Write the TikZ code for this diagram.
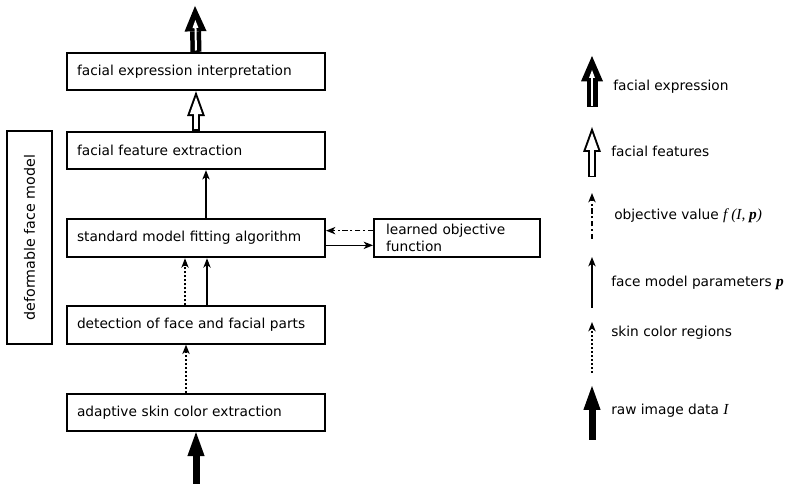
\documentclass[tikz,border=0pt]{standalone}
\usepackage{fontspec}
\setmainfont{DejaVu Sans}
\newfontfamily\mathserif{Liberation Serif}
\usetikzlibrary{arrows.meta}

\tikzset{
  stage/.style={draw, line width=1.5pt, anchor=west, align=left,
    text width=178.5pt, inner xsep=7.5pt, minimum height=28pt},
  flow/.style={line width=1pt, -{Stealth[length=7pt, width=5.5pt, inset=2pt]}},
  dotflow/.style={flow, dash pattern=on 1.5pt off 1.5pt},
  dashdotflow/.style={flow, dash pattern=on 4pt off 2pt on 1.5pt off 2pt},
  rawflow/.style={line width=5.25pt, -{Triangle[length=18pt, width=13pt, line width=0pt]}},
  featflow/.style={line width=6pt, -{Triangle[length=18.75pt, width=13.5pt, line width=0pt]},
    postaction={draw=white, line width=3pt, shorten >=4.4pt, shorten <=1pt,
      -{Triangle[length=12.85pt, width=9.25pt, line width=0pt]}}},
  exprflow/.style={line width=8.25pt, -{Triangle[length=19pt, width=16.5pt, line width=0pt]},
    postaction={draw=white, line width=1.5pt, shorten >=10.5pt, shorten <=1pt,
      -{Triangle[length=6pt, width=4.5pt, line width=0pt]}}},
  legend/.style={anchor=west, inner sep=0pt}
}
\newcommand\symfont{\mathserif\fontsize{11.5}{12}\selectfont\itshape}

\begin{document}
\begin{tikzpicture}[x=0.75pt, y=-0.75pt, font=\fontsize{10.3}{12.4}\selectfont]
  \useasboundingbox (0,0) rectangle (790,484);

  \node[stage] (interp) at (66,71.5) {facial expression interpretation};
  \node[stage] (feature) at (66,150.5) {facial feature extraction};
  \node[stage, minimum height=29pt] (fitting) at (66,238) {standard model fitting algorithm};
  \node[stage] (detect) at (66,325) {detection of face and facial parts};
  \node[stage] (skin) at (66,412.5) {adaptive skin color extraction};
  \node[stage, text width=106.5pt, inner xsep=9pt, minimum height=29pt] (objective) at (373,238)
    {learned objective\\function};
  \node[draw, line width=1.5pt, rotate=90, minimum width=159.75pt, minimum height=33.75pt,
    font=\fontsize{10.7}{12.8}\selectfont] (model) at (29.5,237.5) {deformable face model};

  \coordinate (top) at (195,6);
  \coordinate (bottom) at (196,484);

  \draw[exprflow] (interp.north) -- (top);
  \draw[featflow] (feature.north) -- (interp.south);
  \draw[flow] ([xshift=7.5pt]fitting.north) -- ([xshift=7.5pt]feature.south);
  \draw[flow] ([yshift=-5.5pt]fitting.east) -- ([yshift=-5.5pt]objective.west);
  \draw[dashdotflow] ([yshift=5.5pt]objective.west) -- ([yshift=5.5pt]fitting.east);
  \draw[dotflow] ([xshift=-8.25pt]detect.north) -- ([xshift=-8.25pt]fitting.south);
  \draw[flow] ([xshift=8.25pt]detect.north) -- ([xshift=8.25pt]fitting.south);
  \draw[dotflow] ([xshift=-7.5pt]skin.north) -- ([xshift=-7.5pt]detect.south);
  \draw[rawflow] (bottom) -- (skin.south);

  \coordinate (e1) at (592,107);  \coordinate (e2) at (592,56);
  \coordinate (f1) at (592,177);  \coordinate (f2) at (592,127);
  \coordinate (o1) at (592,239);  \coordinate (o2) at (592,193);
  \coordinate (p1) at (592,308);  \coordinate (p2) at (592,257);
  \coordinate (s1) at (592,373);  \coordinate (s2) at (592,322);
  \coordinate (r1) at (592,440);  \coordinate (r2) at (592,386);

  \draw[exprflow] (e1) -- (e2);
  \draw[featflow] (f1) -- (f2);
  \draw[dashdotflow] (o1) -- (o2);
  \draw[flow] (p1) -- (p2);
  \draw[dotflow] (s1) -- (s2);
  \draw[rawflow] (r1) -- (r2);

  \node[legend] (lexpr) at (613,87) {facial expression};
  \node[legend] (lfeat) at (611,151) {facial features};
  \node[legend] (lobj) at (614,216) {objective value {\symfont f (I, {\bfseries p})}};
  \node[legend] (lpar) at (611,283) {face model parameters {\symfont\bfseries p}};
  \node[legend] (lskin) at (611,333) {skin color regions};
  \node[legend] (lraw) at (611,411) {raw image data {\symfont I}};
\end{tikzpicture}
\end{document}
